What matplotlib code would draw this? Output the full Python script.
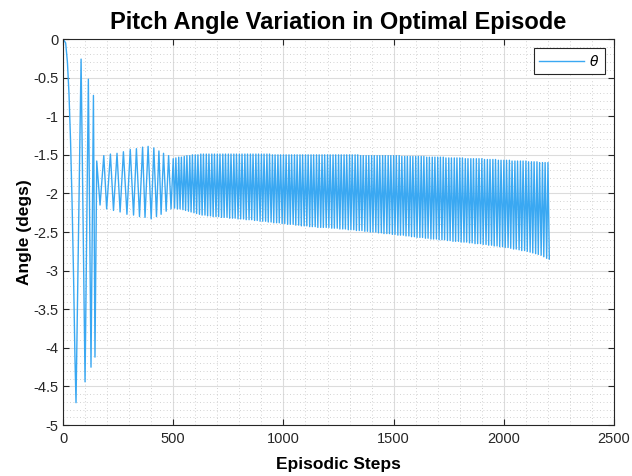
import matplotlib
matplotlib.use('Agg')
import matplotlib.pyplot as plt
import numpy as np
from matplotlib.ticker import MultipleLocator

plt.rcParams['font.family'] = ['Liberation Sans', 'DejaVu Sans']
plt.rcParams['axes.unicode_minus'] = False

# first part of the episode: large swings, read point by point
early_steps = [0, 12, 20, 27, 34, 41, 48, 54, 59, 82, 100, 115, 127, 138, 145,
               153, 168, 185, 198, 215, 229, 245, 259, 274, 290, 305, 320, 333,
               347, 361, 372, 386, 400, 412, 424, 435, 445, 456, 468, 479, 490]
early_vals = [0.0, -0.05, -0.3, -0.7, -1.3, -2.1, -3.1, -4.1, -4.71, -0.26,
              -4.44, -0.52, -4.25, -0.73, -4.12, -1.58, -2.15, -1.51, -2.20,
              -1.49, -2.22, -1.48, -2.24, -1.46, -2.27, -1.43, -2.28, -1.42,
              -2.30, -1.40, -2.31, -1.39, -2.33, -1.41, -2.30, -1.45, -2.27,
              -1.48, -2.23, -1.51, -2.20]

# dense part: peaks and troughs, one row per 100 steps
dense_steps = [
    500, 506, 512, 519, 525, 531, 537, 544, 550, 556, 562, 569, 575, 581, 587, 594,
    600, 606, 612, 619, 625, 631, 637, 644, 650, 656, 662, 669, 675, 681, 687, 694,
    700, 706, 712, 719, 725, 731, 737, 744, 750, 756, 762, 769, 775, 781, 787, 794,
    800, 806, 812, 819, 825, 831, 837, 844, 850, 856, 862, 869, 875, 881, 887, 894,
    900, 906, 912, 919, 925, 931, 937, 944, 950, 956, 962, 969, 975, 981, 987, 994,
    1000, 1006, 1012, 1019, 1025, 1031, 1037, 1044, 1050, 1056, 1062, 1069, 1075, 1081, 1087, 1094,
    1100, 1106, 1112, 1119, 1125, 1131, 1137, 1144, 1150, 1156, 1162, 1169, 1175, 1181, 1187, 1194,
    1200, 1206, 1212, 1219, 1225, 1231, 1237, 1244, 1250, 1256, 1262, 1269, 1275, 1281, 1287, 1294,
    1300, 1306, 1312, 1319, 1325, 1331, 1337, 1344, 1350, 1356, 1362, 1369, 1375, 1381, 1387, 1394,
    1400, 1406, 1412, 1419, 1425, 1431, 1437, 1444, 1450, 1456, 1462, 1469, 1475, 1481, 1487, 1494,
    1500, 1506, 1512, 1519, 1525, 1531, 1537, 1544, 1550, 1556, 1562, 1569, 1575, 1581, 1587, 1594,
    1600, 1606, 1612, 1619, 1625, 1631, 1637, 1644, 1650, 1656, 1662, 1669, 1675, 1681, 1687, 1694,
    1700, 1706, 1712, 1719, 1725, 1731, 1737, 1744, 1750, 1756, 1762, 1769, 1775, 1781, 1787, 1794,
    1800, 1806, 1812, 1819, 1825, 1831, 1837, 1844, 1850, 1856, 1862, 1869, 1875, 1881, 1887, 1894,
    1900, 1906, 1912, 1919, 1925, 1931, 1937, 1944, 1950, 1956, 1962, 1969, 1975, 1981, 1987, 1994,
    2000, 2006, 2012, 2019, 2025, 2031, 2037, 2044, 2050, 2056, 2062, 2069, 2075, 2081, 2087, 2094,
    2100, 2106, 2112, 2119, 2125, 2131, 2137, 2144, 2150, 2156, 2162, 2169, 2175, 2181, 2187, 2194,
    2200, 2206]
dense_vals = [
    -1.55, -2.19, -1.54, -2.20, -1.53, -2.20, -1.53, -2.21, -1.52, -2.22, -1.51, -2.23, -1.51, -2.24, -1.50, -2.25,
    -1.50, -2.26, -1.50, -2.27, -1.49, -2.28, -1.49, -2.28, -1.49, -2.29, -1.49, -2.29, -1.49, -2.30, -1.49, -2.30,
    -1.49, -2.30, -1.49, -2.31, -1.49, -2.31, -1.49, -2.31, -1.49, -2.32, -1.49, -2.32, -1.49, -2.32, -1.49, -2.33,
    -1.49, -2.33, -1.49, -2.33, -1.49, -2.34, -1.49, -2.34, -1.49, -2.34, -1.49, -2.35, -1.49, -2.35, -1.49, -2.36,
    -1.49, -2.36, -1.49, -2.36, -1.49, -2.37, -1.49, -2.37, -1.50, -2.38, -1.50, -2.38, -1.50, -2.38, -1.50, -2.39,
    -1.50, -2.39, -1.50, -2.40, -1.50, -2.40, -1.50, -2.40, -1.50, -2.41, -1.50, -2.41, -1.50, -2.42, -1.50, -2.42,
    -1.50, -2.42, -1.50, -2.43, -1.50, -2.43, -1.50, -2.43, -1.50, -2.44, -1.50, -2.44, -1.50, -2.44, -1.50, -2.44,
    -1.50, -2.44, -1.50, -2.45, -1.50, -2.45, -1.50, -2.45, -1.50, -2.46, -1.50, -2.46, -1.50, -2.46, -1.50, -2.47,
    -1.50, -2.47, -1.50, -2.47, -1.50, -2.48, -1.50, -2.48, -1.51, -2.48, -1.51, -2.49, -1.51, -2.49, -1.51, -2.50,
    -1.51, -2.50, -1.51, -2.50, -1.51, -2.51, -1.51, -2.51, -1.51, -2.52, -1.51, -2.52, -1.51, -2.52, -1.51, -2.53,
    -1.51, -2.53, -1.51, -2.54, -1.51, -2.54, -1.52, -2.54, -1.52, -2.55, -1.52, -2.55, -1.52, -2.56, -1.52, -2.56,
    -1.52, -2.57, -1.52, -2.57, -1.52, -2.57, -1.52, -2.58, -1.53, -2.58, -1.53, -2.59, -1.53, -2.59, -1.53, -2.59,
    -1.53, -2.60, -1.53, -2.60, -1.53, -2.60, -1.54, -2.61, -1.54, -2.61, -1.54, -2.62, -1.54, -2.62, -1.54, -2.62,
    -1.54, -2.63, -1.54, -2.63, -1.55, -2.63, -1.55, -2.64, -1.55, -2.64, -1.55, -2.65, -1.55, -2.65, -1.55, -2.65,
    -1.55, -2.66, -1.56, -2.66, -1.56, -2.67, -1.56, -2.67, -1.56, -2.68, -1.56, -2.68, -1.57, -2.69, -1.57, -2.69,
    -1.57, -2.70, -1.57, -2.70, -1.57, -2.71, -1.58, -2.72, -1.58, -2.72, -1.58, -2.73, -1.58, -2.74, -1.58, -2.74,
    -1.58, -2.75, -1.59, -2.76, -1.59, -2.77, -1.59, -2.78, -1.59, -2.79, -1.60, -2.80, -1.60, -2.82, -1.60, -2.84,
    -1.60, -2.85]

steps = np.array(early_steps + dense_steps)
theta = np.array(early_vals + dense_vals)

fig = plt.figure(figsize=(6.32, 4.76), dpi=100)
ax = fig.add_axes([0.0997, 0.107, 0.872, 0.811])

ax.plot(steps, theta, color='#3aa8f2', linewidth=1.0, label=r'$\theta$')

ax.set_xlim(0, 2500)
ax.set_ylim(-5, 0)
ax.xaxis.set_major_locator(MultipleLocator(500))
ax.xaxis.set_minor_locator(MultipleLocator(100))
ax.yaxis.set_major_locator(MultipleLocator(0.5))
ax.yaxis.set_minor_locator(MultipleLocator(0.1))
ax.yaxis.set_major_formatter(plt.FuncFormatter(lambda v, p: '%g' % v))

ax.grid(which='major', color='#dcdcdc', linewidth=0.8, linestyle='-')
ax.grid(which='minor', color='#c4c4c4', linewidth=0.6, linestyle=(0, (1, 3)))
ax.set_axisbelow(True)

for s in ax.spines.values():
    s.set_color('#262626')
    s.set_linewidth(0.8)
ax.tick_params(which='both', direction='in', top=True, right=True,
               colors='#262626', labelsize=10.5, labelcolor='#262626')
ax.tick_params(which='major', length=4.5, width=0.8)
ax.tick_params(which='minor', length=0)
ax.tick_params(axis='x', pad=5)

ax.set_title('Pitch Angle Variation in Optimal Episode', fontsize=17,
             fontweight='bold', pad=7)
ax.set_xlabel('Episodic Steps', fontsize=12.5, fontweight='bold', labelpad=8)
ax.set_ylabel('Angle (degs)', fontsize=12.5, fontweight='bold', labelpad=1)

leg = ax.legend(loc='upper right', fontsize=10, fancybox=False, framealpha=1,
                edgecolor='#262626', borderaxespad=0.65, handlelength=3.2,
                handletextpad=0.4, borderpad=0.4)
leg.get_frame().set_linewidth(0.8)

fig.savefig('out.png', dpi=100)
